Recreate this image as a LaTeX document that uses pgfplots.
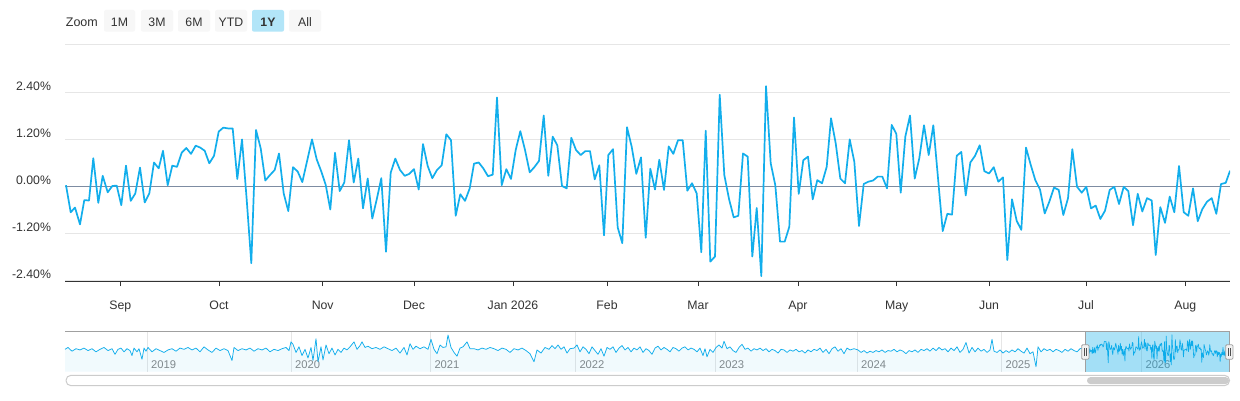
\documentclass[border=0pt]{standalone}
\usepackage{pgfplots}
\usepackage{pgfplotstable}
\pgfplotsset{compat=1.18}
\usepackage{fontspec}
\setmainfont{Liberation Sans}
\definecolor{mainblue}{RGB}{18,174,236}
\definecolor{gridc}{RGB}{230,230,230}
\definecolor{zeroc}{RGB}{125,140,162}
\definecolor{axisc}{RGB}{51,51,51}
\definecolor{labc}{RGB}{51,51,51}
\definecolor{yearc}{RGB}{136,136,136}
\definecolor{btn}{RGB}{247,247,247}
\definecolor{btnsel}{RGB}{178,229,248}
\definecolor{maskc}{RGB}{0,168,232}
\definecolor{navline}{RGB}{160,160,160}
\definecolor{scrollc}{RGB}{204,204,204}
\definecolor{handlef}{RGB}{242,242,242}
\definecolor{handlel}{RGB}{80,80,80}

\pgfplotstableread{
x v
66.0 0.02
70.7 -0.67
75.0 -0.55
80.0 -0.98
84.3 -0.36
89.0 -0.37
93.3 0.71
98.3 -0.43
102.7 0.26
107.7 -0.16
112.3 0.00
116.7 0.01
121.3 -0.49
126.0 0.52
130.7 -0.38
135.3 -0.19
140.0 0.47
144.7 -0.42
149.3 -0.19
154.0 0.60
158.7 0.45
163.0 0.90
167.7 0.02
172.3 0.52
177.0 0.49
181.7 0.85
186.3 0.97
191.0 0.82
195.7 1.03
200.3 0.98
204.7 0.90
209.3 0.58
214.0 0.77
218.7 1.39
223.3 1.49
228.0 1.47
232.7 1.47
237.3 0.18
242.0 1.19
246.7 -0.35
251.3 -1.97
256.0 1.43
260.7 0.96
265.3 0.14
270.0 0.28
274.7 0.41
279.0 0.83
283.7 -0.19
288.3 -0.64
293.0 0.48
297.7 0.37
302.3 0.10
312.0 1.19
316.7 0.68
321.3 0.37
325.7 0.03
330.3 -0.60
335.0 0.85
339.7 -0.13
344.3 0.09
349.0 1.17
353.7 0.09
358.3 0.70
363.0 -0.57
367.7 0.19
372.3 -0.83
377.0 -0.31
381.3 0.20
386.0 -1.68
390.7 0.34
395.3 0.70
400.0 0.41
404.7 0.26
409.3 0.31
414.0 0.43
418.7 -0.09
423.0 1.07
427.7 0.51
432.3 0.20
437.0 0.41
441.7 0.53
446.3 1.32
451.0 1.17
455.7 -0.76
460.3 -0.21
465.0 -0.38
469.7 -0.06
474.0 0.57
478.7 0.60
483.3 0.45
488.0 0.25
492.7 0.29
497.0 2.26
501.7 0.02
506.3 0.43
511.0 0.18
515.7 0.92
520.3 1.40
525.0 0.92
529.7 0.35
534.3 0.48
539.0 0.64
543.7 1.80
548.3 0.26
552.7 1.26
557.3 1.04
562.0 0.00
566.7 -0.06
571.3 1.23
576.0 0.92
580.7 0.79
585.3 0.89
590.0 0.89
594.7 0.17
599.3 0.53
604.0 -1.26
608.3 0.79
613.0 0.94
617.7 -1.06
622.3 -1.46
627.0 1.50
631.7 1.00
636.3 0.31
641.0 0.73
645.7 -1.32
650.3 0.44
655.0 -0.09
659.3 0.67
664.0 -0.10
668.7 1.01
673.3 0.82
678.0 1.17
682.7 1.17
687.3 -0.12
692.0 0.07
696.7 -0.19
701.3 -1.69
705.7 1.41
710.3 -1.93
715.0 -1.80
719.7 2.33
724.3 0.28
729.0 -0.33
733.7 -0.80
738.3 -0.76
743.0 0.83
747.7 0.75
752.3 -1.80
756.7 -0.56
761.3 -2.30
766.0 2.55
770.7 0.58
775.3 0.02
780.0 -1.42
784.7 -1.42
789.3 -1.04
794.0 1.75
798.7 -0.20
803.3 0.66
808.0 0.75
812.7 -0.34
817.3 0.15
822.0 0.07
826.7 0.49
831.0 1.73
835.7 1.09
840.3 0.19
845.0 0.07
849.7 1.19
854.3 0.62
859.0 -1.02
863.7 0.05
868.3 0.11
873.0 0.14
877.7 0.24
882.3 0.24
887.0 -0.06
891.7 1.56
896.3 1.33
900.7 -0.17
905.3 1.26
910.0 1.80
914.7 0.19
919.3 0.71
924.0 1.55
928.7 0.79
933.3 1.55
938.0 0.20
942.7 -1.15
947.3 -0.71
952.0 -0.73
956.7 0.77
961.3 0.87
965.7 -0.24
970.3 0.60
975.0 0.77
979.7 1.04
984.3 0.38
989.0 0.32
993.7 0.48
998.3 0.11
1003.0 0.22
1007.3 -1.89
1012.0 -0.34
1016.7 -0.89
1021.3 -1.12
1026.0 0.98
1030.7 0.54
1035.3 0.15
1040.0 -0.09
1044.7 -0.70
1049.3 -0.40
1054.0 -0.04
1058.7 -0.10
1063.3 -0.74
1068.0 -0.31
1072.3 0.94
1077.0 -0.02
1081.7 -0.17
1086.3 -0.02
1091.0 -0.57
1095.7 -0.50
1100.3 -0.84
1105.0 -0.63
1109.7 -0.10
1114.3 -0.02
1119.0 -0.46
1123.7 -0.02
1128.3 -0.13
1133.0 -1.00
1137.7 -0.20
1142.3 -0.65
1147.0 -0.31
1151.7 -0.37
1155.7 -1.76
1160.3 -0.54
1165.0 -0.94
1169.7 -0.27
1174.3 -0.67
1179.0 0.51
1183.7 -0.67
1188.3 -0.76
1193.0 -0.06
1197.7 -0.90
1202.3 -0.59
1207.0 -0.40
1211.7 -0.31
1216.3 -0.71
1221.0 0.05
1225.7 0.08
1230.0 0.39
}\maindata

\pgfplotstableread{
x v
65 0.2
68 0.5
72 -0.1
76 0.3
80 0.1
84 0.4
88 0.0
92 0.3
96 -0.2
100 0.2
104 0.5
108 0.0
112 0.3
115 -0.6
118 0.2
121 0.4
124 -0.2
127 0.3
130 0.0
132 -0.8
134 0.4
137 -0.2
139 0.3
142 -1.4
144 0.4
146 -0.1
148 0.5
152 -0.2
156 0.3
160 0.0
164 -0.3
168 0.1
172 0.3
176 -0.1
180 0.4
184 0.2
188 0.5
192 0.1
196 0.4
200 -0.2
204 0.6
208 0.1
212 -0.3
216 0.4
220 0.0
224 0.3
228 0.0
232 -1.6
234 0.5
238 0.0
242 0.3
246 0.1
250 0.4
254 -0.1
258 0.3
262 0.1
266 0.4
270 -0.2
274 0.2
278 0.0
282 0.3
286 0.5
289 0.0
291 1.4
293 1.0
296 -0.3
299 0.6
302 -0.8
305 0.2
308 -1.2
311 0.5
313 -1.6
316 1.9
318 -1.8
321 0.6
323 -1.5
326 0.9
329 -0.5
332 0.4
335 -0.7
338 0.2
341 -0.3
344 0.4
347 0.1
350 0.6
354 1.4
357 0.2
360 0.8
362 1.4
365 0.5
368 0.7
372 0.3
376 0.5
380 0.2
384 0.6
388 0.3
392 0.0
396 0.4
400 -0.4
404 0.5
407 -0.7
410 1.1
413 0.2
416 0.7
420 0.3
424 0.6
428 0.2
431 1.8
434 0.2
437 -0.5
440 0.9
443 0.5
446 0.6
448 2.5
451 0.5
454 -0.3
457 -0.9
460 0.4
463 0.6
467 1.4
470 0.3
474 0.3
478 0.1
482 0.4
486 0.2
490 0.5
494 0.3
498 0.0
502 0.4
506 0.2
510 -0.3
514 0.3
518 0.1
522 0.4
526 0.0
530 -0.5
534 -1.8
537 0.1
541 -0.4
545 0.5
549 0.2
552 0.8
555 0.3
558 0.9
561 0.2
564 0.6
567 -0.4
570 0.3
574 0.4
577 0.9
580 -0.2
583 0.6
586 0.2
589 -0.5
592 0.6
595 0.0
598 -0.6
601 0.3
604 -0.9
607 0.5
610 0.2
613 0.6
616 -0.3
619 0.4
622 0.8
625 0.1
628 0.5
631 -0.2
634 0.4
637 0.1
640 0.6
643 -0.3
646 0.3
649 0.0
652 -0.6
655 0.4
658 0.7
661 0.1
664 0.5
667 0.2
670 -0.2
673 0.5
676 0.3
679 -0.1
682 0.4
685 0.6
688 0.1
691 0.4
694 0.2
697 -0.2
700 0.4
703 -0.8
705 0.3
707 -1.0
710 0.2
713 -0.3
716 0.5
719 0.9
722 0.4
724 1.5
727 0.3
730 0.6
733 0.0
736 -0.3
739 0.5
742 1.0
745 0.2
748 0.4
751 -0.1
754 0.3
757 0.1
760 0.4
763 0.0
766 0.3
769 -0.2
772 0.2
775 0.0
778 -0.4
781 0.2
784 0.1
787 -0.3
790 0.1
793 -0.1
796 0.2
799 -0.2
802 0.0
805 -0.4
808 0.1
811 -0.2
814 0.2
817 0.0
820 0.4
823 -0.3
826 0.2
829 -0.5
832 0.3
835 0.6
838 -0.1
841 0.3
844 -0.5
847 0.4
850 0.1
854 0.3
858 0.1
861 -0.3
864 0.0
867 -0.4
870 -0.1
873 -0.3
876 0.0
879 -0.2
882 0.1
885 -0.3
888 0.0
891 -0.1
894 0.2
897 -0.2
900 0.1
903 -0.1
906 -0.5
909 0.0
912 -0.2
915 0.1
918 -0.3
921 0.2
924 0.0
927 0.3
930 -0.1
933 0.4
936 0.0
939 0.5
942 0.1
945 0.3
948 -0.2
951 0.4
954 0.0
957 0.6
960 -0.3
963 0.2
966 1.3
969 -0.4
972 0.5
975 -0.2
978 0.4
981 -0.1
984 0.2
987 -0.3
990 0.1
992 1.8
994 -0.1
997 -0.3
1000 0.1
1003 -0.4
1006 0.0
1009 -0.3
1012 0.1
1015 -0.2
1018 0.3
1021 -0.1
1024 -0.4
1027 0.4
1030 -0.5
1033 -0.2
1036 -2.6
1038 0.6
1041 -0.2
1044 0.3
1047 0.0
1050 0.2
1053 -0.2
1056 0.2
1059 0.0
1062 -0.3
1065 0.2
1068 -0.1
1071 0.3
1074 0.0
1077 -0.2
1080 0.3
1083 0.4
1085.3 0.02
}\navhist

\begin{document}
\begin{tikzpicture}[x=1bp,y=1bp]
\fill[white] (0,0) rectangle (1240,400);
\path[use as bounding box] (0,0) rectangle (1240,400);

% zoom buttons
\tikzset{btxt/.style={font=\fontsize{12.3bp}{14bp}\selectfont, text=labc, inner sep=0pt, anchor=base}}
\node[btxt, anchor=base west, font=\fontsize{12.5bp}{14bp}\selectfont] at (65.7,373.3) {Zoom};
\foreach \a/\b/\t in {104/135/1M,141/173/3M,178/210/6M,215/247/YTD,289/321/All}{
  \fill[btn, rounded corners=2bp] (\a,368.3) rectangle (\b,390);
  \node[btxt] at ({(\a+\b)/2},373.3) {\t};
}
\fill[btnsel, rounded corners=2bp] (252,368.3) rectangle (284,390);
\node[btxt, font=\fontsize{12.3bp}{14bp}\selectfont\bfseries] at (268,373.3) {1Y};

% main chart
\begin{axis}[
  at={(65bp,119bp)}, anchor=south west,
  width=1165bp, height=236bp, scale only axis,
  xmin=65, xmax=1230, ymin=-2.425, ymax=3.6,
  axis line style={draw=none},
  xtick={120.3,219,322.7,414,513,607,698,798,896.7,989,1086,1185.3},
  xticklabels={Sep,Oct,Nov,Dec,Jan 2026,Feb,Mar,Apr,May,Jun,Jul,Aug},
  xtick pos=bottom, tick align=outside, major tick length=5bp,
  xtick style={draw=axisc, line width=1bp},
  xticklabel style={font=\fontsize{12.3bp}{14bp}\selectfont, text=labc, anchor=base, inner sep=0pt, yshift=-23.5bp},
  ytick={-2.4,-1.2,0,1.2,2.4},
  yticklabels={-2.40\%,-1.20\%,0.00\%,1.20\%,2.40\%},
  ytick style={draw=none},
  yticklabel style={font=\fontsize{12.3bp}{14bp}\selectfont, text=labc, anchor=base east, inner sep=0pt, xshift=-8.8bp, yshift=1.6bp},
  ymajorgrids, grid style={draw=gridc, line width=1bp},
  extra y ticks={3.6}, extra y tick labels={},
  extra y tick style={grid=major, ytick style={draw=none}},
]
\addplot[draw=zeroc, line width=1bp, forget plot] coordinates {(65,0) (1230,0)};
\addplot[mainblue, line width=1.7bp, line join=round, no marks] table[x=x, y=v] {\maindata};
\draw[axisc, line width=1bp] (rel axis cs:0,0) -- (rel axis cs:1,0);
\end{axis}

% navigator
\begin{axis}[
  at={(65bp,28.3bp)}, anchor=south west,
  width=1165bp, height=40.2bp, scale only axis,
  xmin=65, xmax=1230, ymin=0, ymax=6.45,
  axis line style={draw=none},
  xtick={147.3,291.3,430.7,575.7,715.3,857.3,1001.7,1141.7},
  xticklabels={2019,2020,2021,2022,2023,2024,2025,2026},
  xmajorgrids, grid style={draw=gridc, line width=1bp},
  major tick length=0pt, xtick style={draw=none},
  ytick=\empty,
  xticklabel style={font=\fontsize{11.2bp}{13bp}\selectfont, text=yearc, anchor=base west, inner sep=0pt, xshift=3.6bp, yshift=3.4bp},
  clip=false,
]
\addplot[draw=none, fill=mainblue, fill opacity=0.06] table[x=x, y expr=\thisrowno{1}+3.39] {\navhist} \closedcycle;
\addplot[draw=none, fill=mainblue, fill opacity=0.06] table[x expr=1085.3+(\thisrowno{0}-66)*0.1237, y expr=\thisrowno{1}+3.39] {\maindata} \closedcycle;
\addplot[mainblue, line width=0.75bp, line join=round, no marks] table[x=x, y expr=\thisrowno{1}+3.39] {\navhist};
\addplot[mainblue, line width=0.65bp, line join=round, no marks] table[x expr=1085.3+(\thisrowno{0}-66)*0.1237, y expr=\thisrowno{1}+3.39] {\maindata};
\end{axis}

% selection mask and outline
\fill[maskc, fill opacity=0.32] (1085.3,28.3) rectangle (1229.3,68.5);
\draw[navline, line width=1bp] (65,68.5) -- (1230,68.5);
\draw[navline, line width=1bp] (1085.3,28.3) -- (1085.3,68.5);
\draw[navline, line width=1bp] (1229.3,28.3) -- (1229.3,68.5);
\foreach \h in {1085.3,1229.3}{
  \filldraw[fill=handlef, draw=navline, line width=0.8bp, rounded corners=1bp] (\h-3.6,40.8) rectangle (\h+3.6,55.2);
  \draw[handlel, line width=0.7bp] (\h-1.1,43.8) -- (\h-1.1,52.2) (\h+1.1,43.8) -- (\h+1.1,52.2);
}

% scrollbar
\draw[scrollc, line width=1bp, fill=white, rounded corners=5bp] (66,14.3) rectangle (1229.5,24.7);
\fill[scrollc, rounded corners=3.3bp] (1087,16) rectangle (1229,22.8);
\end{tikzpicture}
\end{document}
